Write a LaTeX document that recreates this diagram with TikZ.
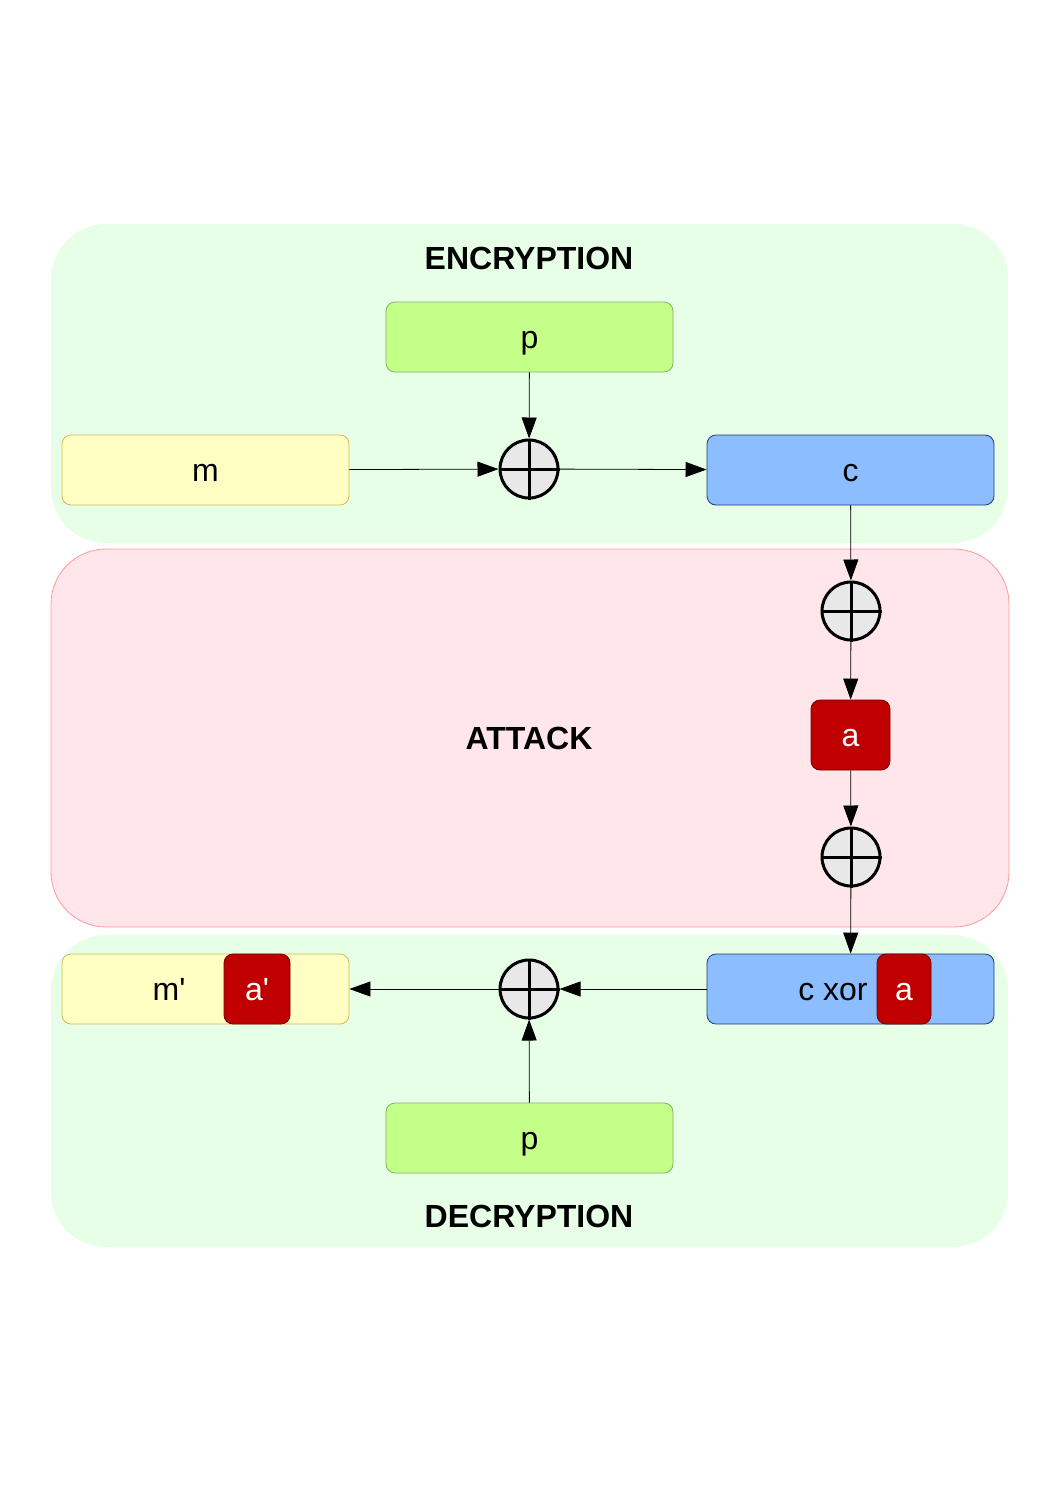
\documentclass[tikz,border=0pt]{standalone}
\usepackage{fontspec}
\setmainfont{Liberation Sans}
\newfontfamily\lblfont{Liberation Sans}
\usetikzlibrary{arrows.meta}
\definecolor{regiongreen}{HTML}{E6FFE6}
\definecolor{attackfill}{HTML}{FFE6EA}
\definecolor{attackline}{HTML}{FF9999}
\definecolor{pfill}{HTML}{C4FF87}
\definecolor{pline}{HTML}{82B366}
\definecolor{yfill}{HTML}{FFFFC4}
\definecolor{yline}{HTML}{D6B656}
\definecolor{bfill}{HTML}{8CBDFF}
\definecolor{bline}{HTML}{1F3A7A}
\definecolor{rfill}{HTML}{C00000}
\definecolor{rline}{HTML}{6F0000}
\definecolor{xfill}{HTML}{E8E8E8}
\tikzset{
  region/.style={rounded corners=55pt, inner sep=0pt},
  lbl/.style={font=\lblfont\fontsize{32}{38}\selectfont, text height=22pt, text depth=0pt},
  title/.style={font=\bfseries\fontsize{32}{38}\selectfont},
  wbox/.style={rounded corners=9pt, minimum width=287pt, minimum height=70pt, inner sep=0pt, line width=0.8pt, lbl},
  pbox/.style={wbox, fill=pfill, draw=pline},
  ybox/.style={wbox, fill=yfill, draw=yline},
  bbox/.style={wbox, fill=bfill, draw=bline},
  rbox/.style={rounded corners=9pt, minimum height=70pt, inner sep=0pt, line width=0.8pt, fill=rfill, draw=rline, text=white, lbl},
  arr/.style={-{Triangle[length=21pt,width=15pt]}, line width=0.8pt},
}
\newcommand{\xorsym}[2]{%
  \node[circle, minimum size=58pt, inner sep=0pt, fill=xfill, draw=black, line width=3pt] (#1) at #2 {};
  \draw[line width=3pt] (#1.north) -- (#1.south) (#1.west) -- (#1.east);
}
\begin{document}
\begin{tikzpicture}[x=1pt,y=-1pt]
\useasboundingbox (0,0) rectangle (1058,1497);
% regions
\draw[region, fill=regiongreen, draw=none] (51,224) rectangle (1008,543);
\draw[region, fill=attackfill, draw=attackline, line width=0.8pt] (51,549) rectangle (1009,927);
\draw[region, fill=regiongreen, draw=none] (51,935) rectangle (1008,1247);
\node[title] (enc) at (529,258) {ENCRYPTION};
\node[title] (att) at (529,738) {ATTACK};
\node[title] (dec) at (529,1216) {DECRYPTION};
% encryption
\node[pbox] (p1) at (529.5,337) {p};
\node[ybox] (m) at (205.5,470) {m};
\node[bbox] (c) at (850.5,470) {c};
\xorsym{x1}{(529,469)}
\draw[arr] (p1) -- (x1);
\draw[arr] (m) -- (x1);
\draw[arr] (x1) -- (c);
% attack
\xorsym{x2}{(851,611)}
\node[rbox, minimum width=79pt] (a) at (850.5,735) {a};
\xorsym{x3}{(851,857)}
\draw[arr] (c) -- (x2);
\draw[arr] (x2) -- (a);
\draw[arr] (a) -- (x3);
% decryption
\node[bbox] (cx) at (850.5,989) {};
\node[lbl] (cxt) at (833,989) {c xor};
\node[rbox, minimum width=54pt] (ca) at (904,989) {a};
\draw[arr] (x3) -- (cx);
\xorsym{x4}{(529,989)}
\node[ybox] (mp) at (205.5,989) {};
\node[lbl] (mpt) at (169,989) {m'};
\node[rbox, minimum width=66pt] (ap) at (257,989) {a'};
\node[pbox] (p2) at (529.5,1138) {p};
\draw[arr] (cx) -- (x4);
\draw[arr] (x4) -- (mp);
\draw[arr] (p2) -- (x4);
\end{tikzpicture}
\end{document}
